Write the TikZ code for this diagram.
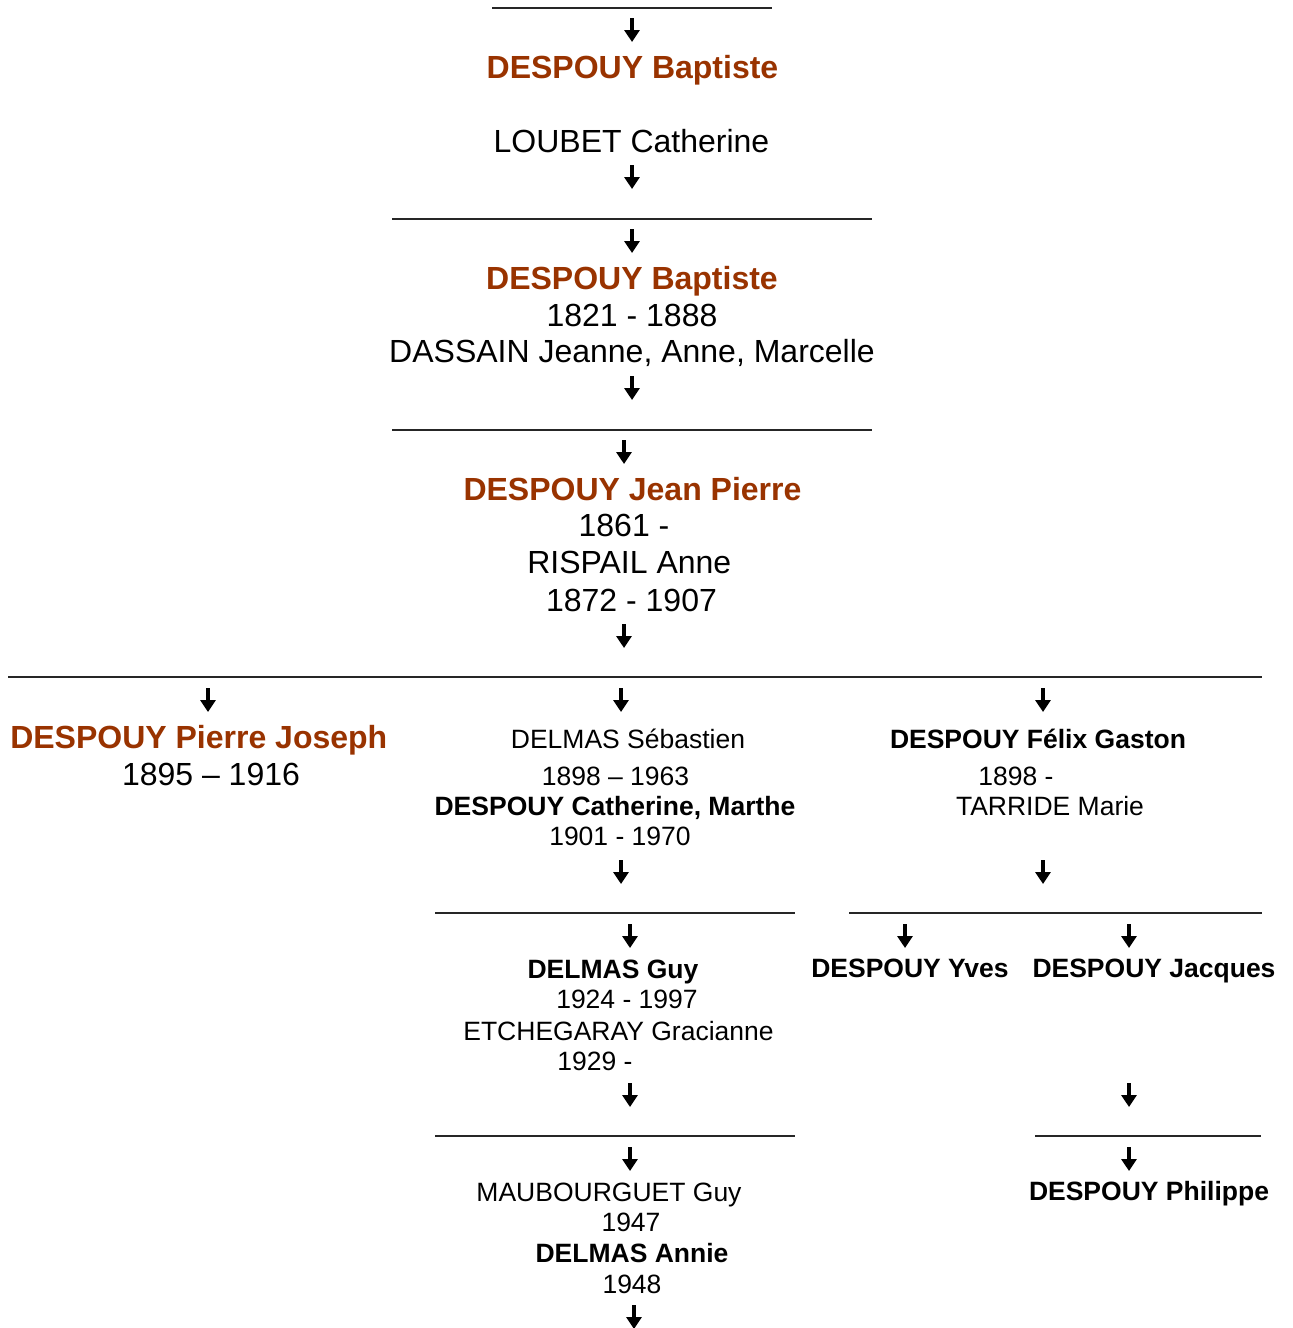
\documentclass[tikz,border=0pt]{standalone}
\usepackage{fontspec}
\setmainfont{Liberation Sans}
\usetikzlibrary{arrows.meta}
\definecolor{brn}{HTML}{993300}
\begin{document}
\begin{tikzpicture}[x=1pt,y=-1pt,
  big/.style={font=\fontsize{32}{37}\selectfont, anchor=base, inner sep=0pt},
  sml/.style={font=\fontsize{26.5}{31}\selectfont, anchor=base, inner sep=0pt},
  bigname/.style={big, font=\fontsize{32}{37}\selectfont\bfseries, text=brn},
  boldsml/.style={sml, font=\fontsize{26.5}{31}\selectfont\bfseries},
  hline/.style={line width=1.4pt, black!85},
  arr/.style={line width=3.2pt, -{Triangle[width=15pt,length=12pt]}}]
\fill[white] (0,0) rectangle (1293,1328);
\useasboundingbox (0,0) rectangle (1293,1328);

% horizontal lines
\coordinate (l0a) at (492,8);    \coordinate (l0b) at (772,8);
\coordinate (l1a) at (392,219);  \coordinate (l1b) at (872,219);
\coordinate (l2a) at (392,430);  \coordinate (l2b) at (872,430);
\coordinate (l3a) at (8,677);    \coordinate (l3b) at (1262,677);
\coordinate (l4a) at (435,913);  \coordinate (l4b) at (795,913);
\coordinate (l5a) at (849,913);  \coordinate (l5b) at (1262,913);
\coordinate (l6a) at (435,1136); \coordinate (l6b) at (795,1136);
\coordinate (l7a) at (1035,1136);\coordinate (l7b) at (1261,1136);
\foreach \n in {0,...,7} \draw[hline] (l\n a) -- (l\n b);

% arrows
\foreach \n/\x/\y in {1/632/18, 2/632/165, 3/632/229, 4/632/376, 5/624/440, 6/624/624,
  7/208/688, 8/621/688, 9/1043/688, 10/621/860, 11/1043/860,
  12/630/924, 13/905/924, 14/1129/924, 15/630/1083, 16/1129/1083,
  17/630/1147, 18/1129/1147, 19/634/1305}
{
  \coordinate (as\n) at (\x,\y);
  \coordinate (ae\n) at (\x,\y+24);
  \draw[arr] (as\n) -- (ae\n);
}

% generation 1
\node[bigname] (b1) at (632.5,78) {DESPOUY Baptiste};
\node[big] (c1) at (631.5,152) {LOUBET Catherine};

% generation 2
\node[bigname] (b2) at (632,289) {DESPOUY Baptiste};
\node[big] (b2d) at (632,326) {1821 - 1888};
\node[big] (d2) at (632,362.7) {DASSAIN Jeanne, Anne, Marcelle};

% generation 3
\node[bigname] (jp) at (632.5,500) {DESPOUY Jean Pierre};
\node[big] (jpd) at (624,536.7) {1861 -};
\node[big] (ra) at (629.3,573.3) {RISPAIL Anne};
\node[big] (rad) at (631.5,611) {1872 - 1907};

% generation 4
\node[bigname] (pj) at (198.8,748) {DESPOUY Pierre Joseph};
\node[big] (pjd) at (211,785) {1895 – 1916};

\node[sml] (ds) at (628,748.3) {DELMAS Sébastien};
\node[sml] (dsd) at (615.5,785) {1898 – 1963};
\node[boldsml] (cm) at (615,815) {DESPOUY Catherine, Marthe};
\node[sml] (cmd) at (620,845) {1901 - 1970};

\node[boldsml] (fg) at (1038,748) {DESPOUY Félix Gaston};
\node[sml] (fgd) at (1016,785) {1898 -};
\node[sml] (tm) at (1050,815) {TARRIDE Marie};

% generation 5
\node[boldsml] (dg) at (613,978) {DELMAS Guy};
\node[sml] (dgd) at (627,1008) {1924 - 1997};
\node[sml] (eg) at (618.5,1040) {ETCHEGARAY Gracianne};
\node[sml] (egd) at (595,1070) {1929 -};

\node[boldsml] (yv) at (910,977) {DESPOUY Yves};
\node[boldsml] (jq) at (1154,977) {DESPOUY Jacques};

% generation 6
\node[sml] (mg) at (609,1201.7) {MAUBOURGUET Guy};
\node[sml] (mgd) at (631,1231.7) {1947};
\node[boldsml] (da) at (632,1262) {DELMAS Annie};
\node[sml] (dad) at (632,1293) {1948};

\node[boldsml] (ph) at (1149,1200.5) {DESPOUY Philippe};
\end{tikzpicture}
\end{document}
